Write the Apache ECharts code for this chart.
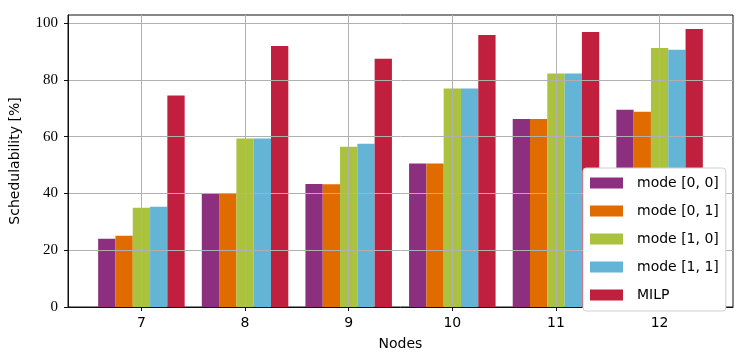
<!DOCTYPE html>
<html>
<head>
<meta charset="utf-8">
<script src="https://cdn.jsdelivr.net/npm/echarts@6/dist/echarts.min.js"></script>
<style>
  html, body { margin: 0; padding: 0; background: #fff; }
  #chart { width: 748px; height: 363px; }
</style>
</head>
<body>
<div id="chart"></div>
<script>
// data
const nodes = [7, 8, 9, 10, 11, 12];
const mode00 = [24.0, 40.0, 43.3, 50.5, 66.2, 69.4];
const mode01 = [25.1, 40.0, 43.2, 50.5, 66.2, 68.7];
const mode10 = [34.9, 59.3, 56.4, 76.9, 82.2, 91.2];
const mode11 = [35.3, 59.3, 57.5, 76.9, 82.2, 90.6];
const milp = [74.5, 91.9, 87.4, 95.8, 96.8, 97.9];
const yTicks = [0, 20, 40, 60, 80, 100];

const names = ['mode [0, 0]', 'mode [0, 1]', 'mode [1, 0]', 'mode [1, 1]', 'MILP'];
const values = [mode00, mode01, mode10, mode11, milp];
const colors = ['#8c2f7e', '#e06c00', '#aac23d', '#64b4d5', '#c01f3d'];

const chart = echarts.init(document.getElementById('chart'));

chart.setOption({
  animation: false,
  color: colors,
  grid: {
    left: 67,
    right: 15,
    top: 15,
    bottom: 56,
    show: true,
    borderColor: '#111',
    borderWidth: 1,
    backgroundColor: 'transparent'
  },
  legend: {
    orient: 'vertical',
    left: 583,
    top: 168,
    z: 6,
    icon: 'rect',
    itemWidth: 33,
    itemHeight: 11,
    itemGap: 14,
    padding: [8, 7, 9, 7],
    backgroundColor: '#fff',
    borderColor: '#d0d0d0',
    borderWidth: 1,
    borderRadius: 3,
    textStyle: {
      fontFamily: 'DejaVu Sans',
      fontSize: 14,
      color: '#000',
      padding: [0, 0, 0, 9]
    },
    data: names
  },
  xAxis: {
    type: 'value',
    min: 6.2917,
    max: 12.7083,
    z: 3,
    name: 'Nodes',
    nameLocation: 'middle',
    nameGap: 30,
    nameTextStyle: { fontFamily: 'DejaVu Sans', fontSize: 14, color: '#000' },
    axisLine: { show: true, lineStyle: { color: '#111', width: 1 } },
    axisTick: { show: true, length: 4, lineStyle: { color: '#111' }, customValues: nodes },
    axisLabel: {
      customValues: nodes,
      margin: 9,
      fontFamily: 'DejaVu Sans',
      fontSize: 14,
      color: '#000'
    },
    splitLine: { show: true, lineStyle: { color: '#b0b0b0', width: 1 } }
  },
  yAxis: {
    type: 'value',
    min: 0,
    max: 102.8,
    z: 3,
    name: 'Schedulability [%]',
    nameLocation: 'middle',
    nameGap: 46,
    nameTextStyle: { fontFamily: 'DejaVu Sans', fontSize: 14, color: '#000' },
    axisLine: { show: true, lineStyle: { color: '#111', width: 1 } },
    axisTick: { show: true, length: 4, lineStyle: { color: '#111' }, customValues: yTicks },
    axisLabel: {
      customValues: yTicks,
      margin: 10,
      fontFamily: 'Liberation Serif',
      fontSize: 15,
      color: '#000'
    },
    splitLine: { show: true, lineStyle: { color: '#b0b0b0', width: 1 } }
  },
  series: names.map((n, i) => ({
    name: n,
    type: 'bar',
    barWidth: 17.3,
    barGap: '0%',
    z: 2,
    itemStyle: { color: colors[i] },
    data: nodes.map((x, j) => [x, values[i][j]])
  }))
});
</script>
</body>
</html>
